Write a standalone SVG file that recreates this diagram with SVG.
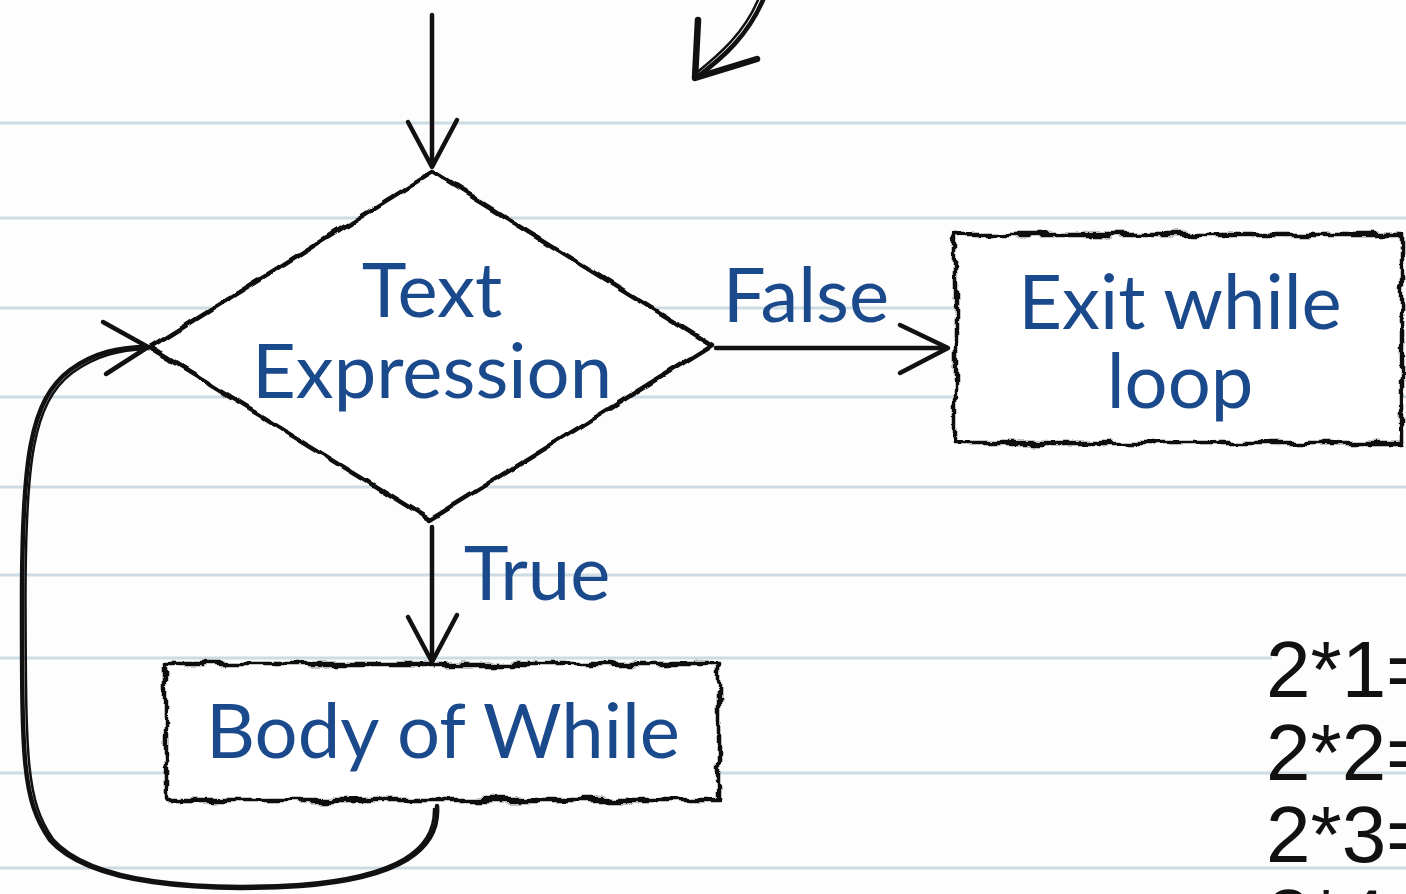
<svg xmlns="http://www.w3.org/2000/svg" width="1406" height="894" viewBox="0 0 1406 894">
  <defs>
    <filter id="rough" x="-5%" y="-5%" width="110%" height="110%">
      <feTurbulence type="fractalNoise" baseFrequency="0.035 0.05" numOctaves="4" seed="3" result="n"/>
      <feDisplacementMap in="SourceGraphic" in2="n" scale="11" xChannelSelector="R" yChannelSelector="G"/>
    </filter>
    <filter id="wavy" x="-5%" y="-5%" width="110%" height="110%">
      <feTurbulence type="fractalNoise" baseFrequency="0.035" numOctaves="2" seed="7" result="n"/>
      <feDisplacementMap in="SourceGraphic" in2="n" scale="7" xChannelSelector="R" yChannelSelector="G"/>
    </filter>
    <style>
      .rule { stroke: #cddbe4; stroke-width: 3; }
      .shape { fill: #ffffff; stroke: #111111; stroke-width: 4.5; stroke-linejoin: round; }
      .conn { fill: none; stroke: #111111; stroke-width: 4.5; stroke-linecap: round; stroke-linejoin: round; }
      .lbl { font-family: Lato, "Open Sans", "Liberation Sans", sans-serif; font-size: 76px; fill: #1b4a8c; text-anchor: middle; }
      .calc { font-family: "Liberation Sans", Arial, sans-serif; font-size: 80px; fill: #111111; }
    </style>
  </defs>

  <rect width="1406" height="894" fill="#fdfdfd"/>

  <g id="ruled-lines">
    <line class="rule" x1="0" y1="123" x2="1406" y2="123"/>
    <line class="rule" x1="0" y1="218" x2="1406" y2="218"/>
    <line class="rule" x1="0" y1="308" x2="1406" y2="308"/>
    <line class="rule" x1="0" y1="397" x2="1406" y2="397"/>
    <line class="rule" x1="0" y1="487" x2="1406" y2="487"/>
    <line class="rule" x1="0" y1="575" x2="1406" y2="575"/>
    <line class="rule" x1="0" y1="658" x2="1406" y2="658"/>
    <line class="rule" x1="0" y1="773" x2="1406" y2="773"/>
    <line class="rule" x1="0" y1="868" x2="1406" y2="868"/>
  </g>

  <g id="connectors">
    <!-- entry arrow -->
    <path class="conn" d="M432 15 L432 166"/>
    <path class="conn" d="M408 122 L432 167 L457 120"/>
    <!-- False arrow -->
    <path class="conn" d="M716 348 L947 348"/>
    <path class="conn" d="M900 325 L948 348 L900 373"/>
    <!-- True arrow -->
    <path class="conn" d="M432 527 L432 661"/>
    <path class="conn" d="M408 617 L432 662 L457 615"/>
    <!-- loop back -->
    <path class="conn" d="M437 806 C440 850 400 878 300 886 C200 892 90 885 50 840 C22 800 22 760 22 600 C22 460 30 400 70 370 C95 352 120 347 148 347"/>
    <path class="conn" style="stroke-width:2.5" d="M434 809 C435 849 398 876 300 884 C200 890 92 883 53 839 C26 800 26 760 25.5 600 C25.5 462 33 403 72 373 C97 355 121 350 146 349"/>
    <path class="conn" d="M103 322 L148 347 L106 374"/>
    <!-- top-right partial arrow -->
    <path class="conn" style="stroke-width:4.5" d="M763 0 C748 35 724 57 697 77"/>
    <path class="conn" style="stroke-width:2.5" d="M758 0 C744 33 720 54 695 74"/>
    <path class="conn" style="stroke-width:6.5" d="M698 20 L695 78 L757 59"/>
  </g>

  <g id="node-decision">
    <path class="shape" filter="url(#wavy)" d="M432 172 L712 345 L430 520 L150 348 Z"/>
    <text class="lbl" x="432" y="317">Text</text>
    <text class="lbl" x="432" y="398">Expression</text>
  </g>

  <g id="label-false">
    <text class="lbl" x="806" y="322">False</text>
  </g>

  <g id="node-exit">
    <rect class="shape" filter="url(#rough)" x="955" y="235" width="447" height="208"/>
    <text class="lbl" x="1180" y="329">Exit while</text>
    <text class="lbl" x="1180" y="408">loop</text>
  </g>

  <g id="label-true">
    <text class="lbl" x="537" y="600">True</text>
  </g>

  <g id="node-body">
    <rect class="shape" filter="url(#rough)" x="166" y="664" width="553" height="136"/>
    <text class="lbl" x="443" y="758">Body of While</text>
  </g>

  <g id="output-text">
    <rect x="1272" y="620" width="134" height="60" fill="#fdfdfd"/>
    <text class="calc" x="1266" y="697">2*1=</text>
    <text class="calc" x="1266" y="780">2*2=</text>
    <text class="calc" x="1266" y="862">2*3=</text>
    <text class="calc" x="1266" y="945">2*4=</text>
  </g>
</svg>
